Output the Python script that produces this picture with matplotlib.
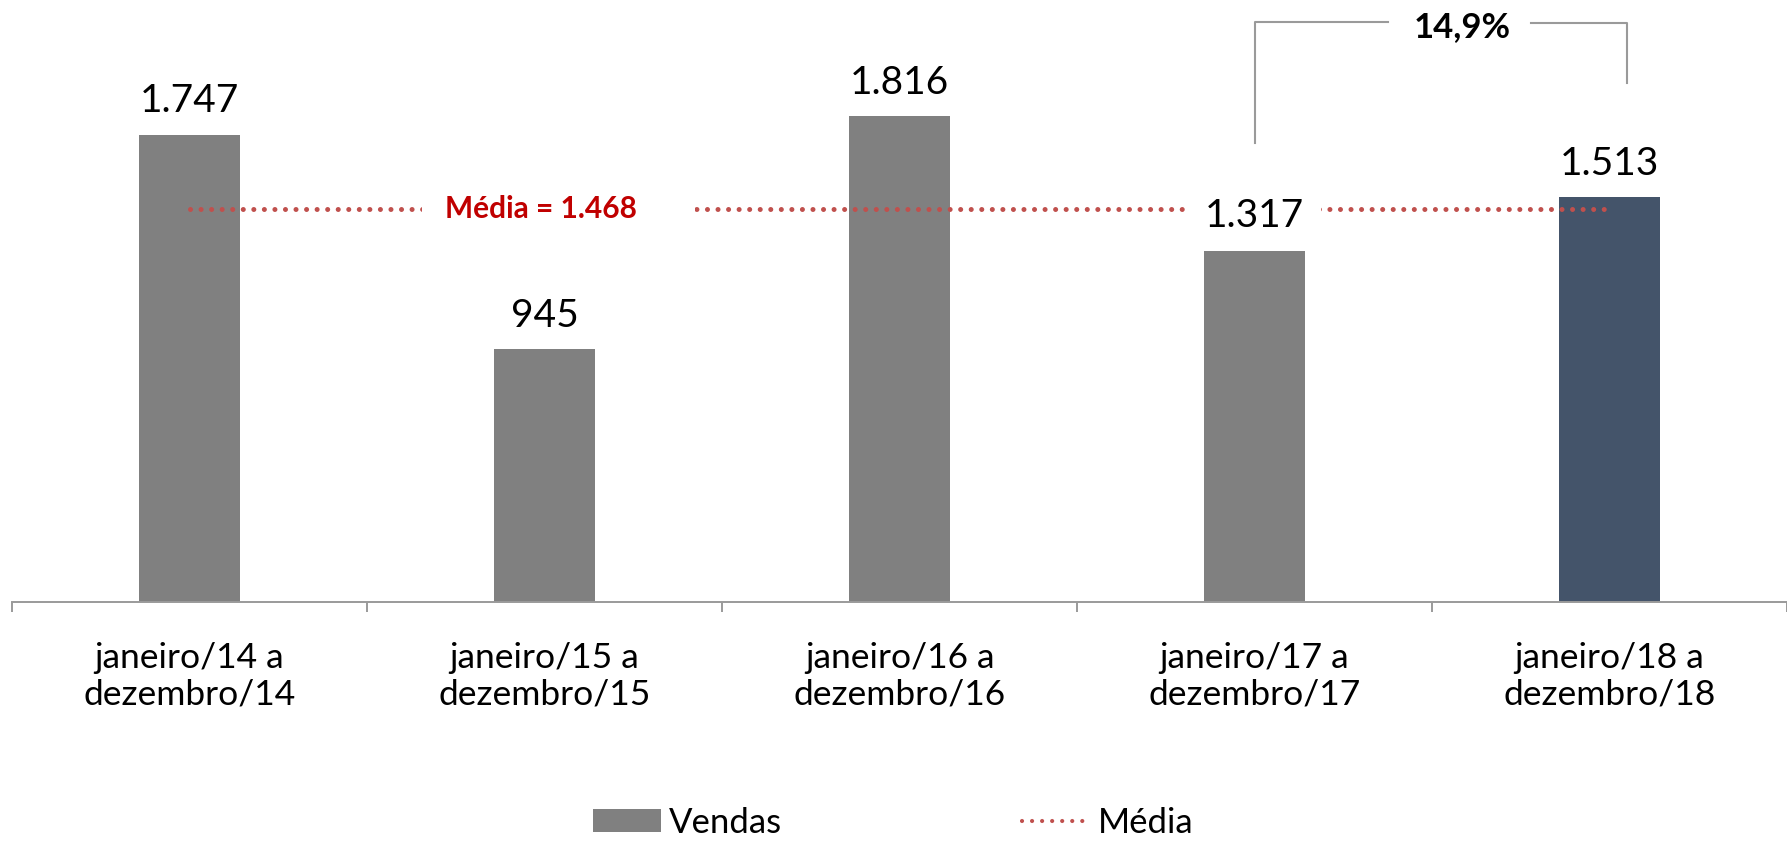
import numpy as np
import matplotlib.pyplot as plt
from matplotlib.patches import Rectangle
from matplotlib.lines import Line2D
from matplotlib.patches import Patch

plt.rcParams['font.family'] = ['Lato', 'DejaVu Sans']

periodos = ['janeiro/14 a\ndezembro/14', 'janeiro/15 a\ndezembro/15',
            'janeiro/16 a\ndezembro/16', 'janeiro/17 a\ndezembro/17',
            'janeiro/18 a\ndezembro/18']
vendas = [1747, 945, 1816, 1317, 1513]
media = 1468
variacao = '14,9%'

cores = ['#808080'] * 4 + ['#44546A']
cinza = '#9A9A9A'
vermelho = '#C0504D'

fig = plt.figure(figsize=(17.87, 8.42), dpi=100)
ax = fig.add_axes([12 / 1787, 240 / 842, 1 - 12 / 1787, 1 - 240 / 842])

x = np.arange(len(vendas))
ax.bar(x, vendas, width=0.285, color=cores, zorder=2)

# linha da media (pontilhada)
ax.plot([x[0], x[-1]], [media, media], color=vermelho, lw=3.6,
        linestyle=(0, (0.01, 2.1)), dash_capstyle='round', zorder=3)

# rotulos de valor
for i, v in enumerate(vendas):
    txt = f'{v:,}'.replace(',', '.')
    bb = dict(facecolor='white', edgecolor='none', pad=12) if i == 3 else None
    ax.annotate(txt, (i, v), xytext=(0, 11), textcoords='offset points',
                ha='center', va='bottom', fontsize=28, color='black',
                bbox=bb, zorder=5)

# texto da media com fundo branco
ax.add_patch(Rectangle((0.655, media - 90), 0.77, 180, facecolor='white',
                       edgecolor='none', zorder=4))
ax.text(0.99, media, f'Média = {media:,}'.replace(',', '.'), ha='center',
        va='center', fontsize=21.5, fontweight='bold', color='#C00000', zorder=5)

# colchete da variacao
ax.plot([3, 3, 3.376], [1715, 2166, 2166], color=cinza, lw=1.5, clip_on=False)
ax.plot([3.78, 4.05, 4.05], [2164, 2164, 1939], color=cinza, lw=1.5, clip_on=False)
ax.text(3.585, 2150, variacao, ha='center', va='center', fontsize=25,
        fontweight='bold', color='black')

ax.set_xlim(-0.5, 4.5)
ax.set_ylim(0, 2250)
ax.set_xticks(x)
ax.set_xticklabels(periodos, fontsize=25.5, linespacing=1.15)
ax.set_xticks(np.arange(-0.5, 5.0, 1.0), minor=True)
ax.tick_params(axis='x', which='major', length=0, pad=29)
ax.tick_params(axis='x', which='minor', length=7, width=1.4, color=cinza)
ax.set_yticks([])
for s in ['top', 'right', 'left']:
    ax.spines[s].set_visible(False)
ax.spines['bottom'].set_color(cinza)
ax.spines['bottom'].set_linewidth(1.4)

handles = [Patch(facecolor='#808080', edgecolor='none', label='Vendas'),
           Line2D([0], [0], color=vermelho, lw=3.0, linestyle=(0, (0.01, 2.4)),
                  dash_capstyle='round', label='Média')]
fig.legend(handles=handles, loc='center', bbox_to_anchor=(0.5, 19 / 842),
           ncol=2, frameon=False, fontsize=25, handlelength=1.96, handleheight=0.65,
           handletextpad=0.23, columnspacing=6.9, borderpad=0.2)

fig.savefig('out.png', dpi=100)
